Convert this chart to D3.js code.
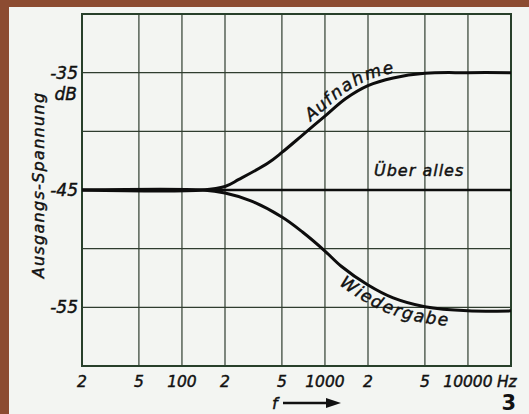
<!DOCTYPE html>
<html>
<head>
<meta charset="utf-8">
<script src="https://cdn.jsdelivr.net/npm/d3@7"></script>
<style>
  body { margin: 0; background: #f3f5f2; }
  svg { display: block; }
  text { font-family: "DejaVu Sans", sans-serif; font-style: italic; fill: #111; stroke: #111; stroke-width: 0.45; }
</style>
</head>
<body>
<svg width="529" height="414"></svg>
<script>
// frequency axis (Hz) and level axis (dB)
const gridFreqs = [20, 50, 100, 200, 500, 1000, 2000, 5000, 10000, 20000]
const tickFreqs = [20, 50, 100, 200, 500, 1000, 2000, 5000, 10000]
const tickLabels = ['2', '5', '100', '2', '5', '1000', '2', '5', '10000']
const gridDb = [-60, -55, -50, -45, -40, -35, -30]
const dbTicks = [-35, -45, -55]

// curves
const aufFreq = [20, 140, 200, 250, 400, 500, 700, 1000, 1400, 2000, 3000, 5000, 10000, 20000]
const aufDb   = [-45, -45, -44.7, -44.1, -42.7, -41.8, -40.3, -38.7, -37.2, -36.1, -35.45, -35.05, -35, -35]
const wdgFreq = [20, 140, 200, 300, 500, 700, 1000, 1300, 2000, 3000, 5000, 10000, 20000]
const wdgDb   = [-45, -45, -45.25, -45.9, -47.3, -48.6, -50.2, -51.5, -53.1, -54.2, -54.95, -55.3, -55.3]
const uebFreq = [20, 20000]
const uebDb   = [-45, -45]

const svg = d3.select('svg')

// scanned page edge
svg.append('rect').attr('width', 529).attr('height', 414).attr('fill', '#8c4c31')
svg.append('rect').attr('x', 9).attr('y', 7).attr('width', 520).attr('height', 407).attr('fill', '#f3f5f2')

const x = d3.scaleLog().domain([20, 20000]).range([82, 511])
const y = d3.scaleLinear().domain([-60, -30]).range([366, 14])

const grid = svg.append('g')
    .attr('stroke', '#2f3d2f')
    .attr('stroke-width', 1.2)

grid.selectAll('.v').data(gridFreqs)
    .enter().append('line')
        .attr('class', 'v')
        .attr('x1', d => x(d)).attr('x2', d => x(d))
        .attr('y1', y(-30)).attr('y2', y(-60))

grid.selectAll('.h').data(gridDb)
    .enter().append('line')
        .attr('class', 'h')
        .attr('x1', x(20)).attr('x2', x(20000))
        .attr('y1', d => y(d)).attr('y2', d => y(d))

svg.append('rect')
    .attr('x', x(20)).attr('y', y(-30))
    .attr('width', x(20000) - x(20)).attr('height', y(-60) - y(-30))
    .attr('fill', 'none')
    .attr('stroke', '#27402a')
    .attr('stroke-width', 2)

// tick labels
svg.selectAll('.xt').data(tickFreqs)
    .enter().append('text')
        .attr('class', 'xt')
        .attr('x', d => x(d))
        .attr('y', 387)
        .attr('text-anchor', 'middle')
        .attr('font-size', 15.5)
        .text((d, i) => tickLabels[i])

svg.append('text')
    .attr('x', x(10000) + 29).attr('y', 387)
    .attr('font-size', 15.5)
    .text('Hz')

svg.selectAll('.yt').data(dbTicks)
    .enter().append('text')
        .attr('class', 'yt')
        .attr('x', 78)
        .attr('y', d => y(d))
        .attr('dy', '0.36em')
        .attr('text-anchor', 'end')
        .attr('font-size', 17)
        .text(d => '-' + Math.abs(d))

svg.append('text')
    .attr('x', 77).attr('y', y(-35) + 27)
    .attr('text-anchor', 'end')
    .attr('font-size', 17)
    .text('dB')

svg.append('text')
    .attr('transform', 'translate(44,185) rotate(-90)')
    .attr('text-anchor', 'middle')
    .attr('font-size', 16)
    .attr('letter-spacing', 1.3)
    .text('Ausgangs-Spannung')

// f ---->
svg.append('text')
    .attr('x', 272).attr('y', 409)
    .attr('font-size', 16)
    .text('f')
svg.append('line')
    .attr('x1', 283).attr('x2', 328)
    .attr('y1', 403).attr('y2', 403)
    .attr('stroke', '#111').attr('stroke-width', 2.5)
svg.append('path')
    .attr('d', 'M326,398 L341,403 L326,408 Z')
    .attr('fill', '#111')

svg.append('text')
    .attr('x', 516).attr('y', 410)
    .attr('text-anchor', 'end')
    .attr('font-size', 21)
    .attr('font-weight', 'bold')
    .style('font-style', 'normal')
    .style('stroke-width', 0)
    .text('3')

// curves
const line = d3.line()
    .x(d => x(d[0]))
    .y(d => y(d[1]))
    .curve(d3.curveCatmullRom.alpha(0.5))

const curves = [
    { id: 'ueb', pts: d3.zip(uebFreq, uebDb), w: 2.6 },
    { id: 'auf', pts: d3.zip(aufFreq, aufDb), w: 3 },
    { id: 'wdg', pts: d3.zip(wdgFreq, wdgDb), w: 3 }
]

svg.selectAll('.curve').data(curves)
    .enter().append('path')
        .attr('class', 'curve')
        .attr('id', d => d.id)
        .attr('d', d => line(d.pts))
        .attr('fill', 'none')
        .attr('stroke', '#0d0d0d')
        .attr('stroke-width', d => d.w)

// distance along a path to the point with a given x
function lengthAtX(id, px) {
    const p = document.getElementById(id)
    const total = p.getTotalLength()
    let lo = 0, hi = total
    for (let k = 0; k < 30; k++) {
        const mid = (lo + hi) / 2
        if (p.getPointAtLength(mid).x < px) lo = mid
        else hi = mid
    }
    return lo
}

svg.append('text')
    .attr('font-size', 17)
    .attr('letter-spacing', 1.2)
    .attr('dy', -5)
    .append('textPath')
        .attr('href', '#auf')
        .attr('startOffset', lengthAtX('auf', 314))
        .text('Aufnahme')

svg.append('text')
    .attr('font-size', 17)
    .attr('letter-spacing', 0.8)
    .attr('dy', 16)
    .append('textPath')
        .attr('href', '#wdg')
        .attr('startOffset', lengthAtX('wdg', 348))
        .text('Wiedergabe')

svg.append('text')
    .attr('x', 374).attr('y', 176)
    .attr('font-size', 16)
    .attr('letter-spacing', 1)
    .text('Über alles')
</script>
</body>
</html>
